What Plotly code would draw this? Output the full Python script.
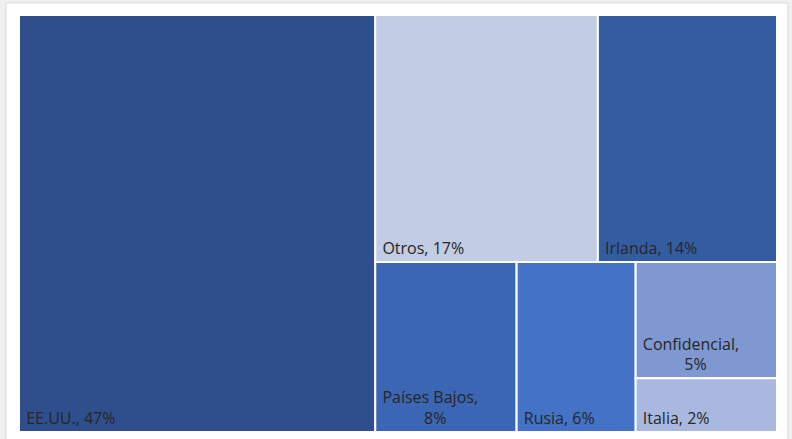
import plotly.graph_objects as go

countries = ["EE.UU.", "Otros", "Irlanda", "Países Bajos", "Rusia", "Confidencial", "Italia"]
shares = [47.0, 17.4, 14.0, 7.6, 6.4, 5.2, 2.4]
pct_labels = ["47%", "17%", "14%", "8%", "6%", "5%", "2%"]
colors = ["#2E4F8B", "#C2CCE4", "#335CA1", "#3A66B3", "#4472C4", "#7F98D1", "#A9B8DF"]

# the two narrow tiles wrap their label like the spreadsheet did
sp = "&nbsp;"
texts = []
for c, p in zip(countries, pct_labels):
    if c in ("Países Bajos", "Confidencial"):
        texts.append(f"{sp}{c},<br>{sp * 11}{p}")
    else:
        texts.append(f"{sp}{c}, {p}")

fig = go.Figure(go.Treemap(
    labels=countries,
    parents=[""] * len(countries),
    values=shares,
    text=texts,
    texttemplate="%{text}",
    textposition="bottom left",
    sort=True,
    marker=dict(colors=colors, line=dict(color="white", width=2), pad=dict(t=0, l=0, r=0, b=0)),
    textfont=dict(family="Open Sans", size=16, color="#262626"),
    tiling=dict(packing="squarify", pad=0),
    pathbar=dict(visible=False),
    root=dict(color="white"),
    hoverinfo="label+value",
))

fig.update_layout(
    width=792,
    height=439,
    margin=dict(l=19, r=15, t=15, b=7, pad=0),
    paper_bgcolor="#F0F0F0",
    shapes=[dict(
        type="rect", xref="paper", yref="paper", layer="below",
        x0=-0.0172, x1=1.0145, y0=-0.03, y1=1.0288,
        fillcolor="white", line=dict(color="#D9D9D9", width=1),
    )],
)

fig.write_html("out.html", config={"displayModeBar": False},
               post_script="document.body.style.margin='0';")
